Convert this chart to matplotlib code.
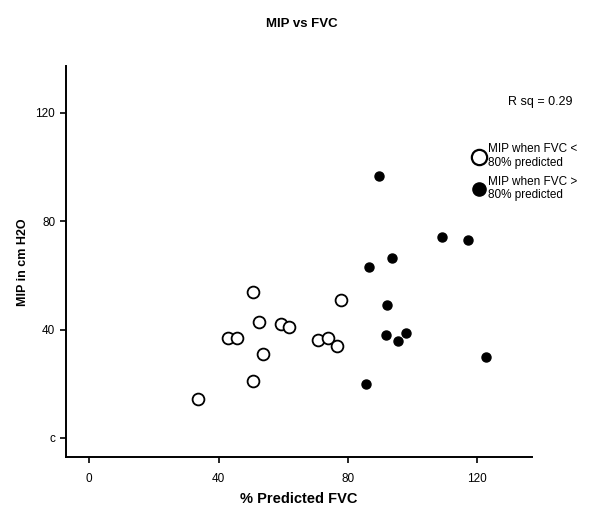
import matplotlib
matplotlib.use("Agg")
import matplotlib.pyplot as plt
from matplotlib.lines import Line2D

plt.rcParams['font.family'] = ['Liberation Sans', 'DejaVu Sans']

# FVC < 80% predicted (open circles)
low_fvc = [33.7, 50.7, 52.5, 42.8, 45.7, 53.7, 50.7, 59.2, 61.8, 77.8, 70.6, 73.7, 76.7]
low_mip = [14.2, 53.9, 42.8, 36.7, 36.7, 31.0, 21.0, 42.0, 40.9, 51.0, 36.0, 36.9, 33.9]
# FVC > 80% predicted (filled circles)
high_fvc = [89.6, 109.2, 117.2, 93.6, 86.4, 92.0, 91.6, 97.8, 95.6, 122.6, 85.7]
high_mip = [96.9, 74.1, 73.0, 66.6, 63.0, 49.0, 37.9, 38.9, 35.7, 29.8, 19.8]

xticks = [0, 40, 80, 120]
yticks = [0, 40, 80, 120]
ytick_labels = ['c', '40', '80', '120']
xtick_labels = ['0', '40', '80', '120']

fig = plt.figure(figsize=(6.14, 5.08), dpi=100)
ax = fig.add_axes([0.107, 0.0998, 0.759, 0.770])

ax.plot(low_fvc, low_mip, 'o', ms=8.5, mfc='white', mec='black', mew=1.3, ls='none')
ax.plot(high_fvc, high_mip, 'o', ms=6.5, mfc='black', mec='black', ls='none')

ax.set_xlim(-7.3, 136.8)
ax.set_ylim(-7.2, 137.3)
ax.set_xticks(xticks)
ax.set_xticklabels(xtick_labels)
ax.set_yticks(yticks)
ax.set_yticklabels(ytick_labels)
for s in ['top', 'right']:
    ax.spines[s].set_visible(False)
for s in ['left', 'bottom']:
    ax.spines[s].set_linewidth(1.4)
ax.tick_params(axis='both', labelsize=8.5, width=1.2, length=4, direction='out')
ax.tick_params(axis='x', pad=7)

ax.set_xlabel('% Predicted FVC', fontsize=10.5, fontweight='bold', labelpad=5)
ax.set_ylabel('MIP in cm H2O', fontsize=9, fontweight='bold', labelpad=5)
fig.suptitle('MIP vs FVC', fontsize=9.5, fontweight='bold', y=0.965, x=0.492)

fig.text(0.88, 0.80, 'R sq = 0.29', fontsize=9, ha='center', va='center')

handles = [
    Line2D([], [], marker='o', ls='none', ms=11, mfc='white', mec='black', mew=1.6),
    Line2D([], [], marker='o', ls='none', ms=9.5, mfc='black', mec='black'),
]
labels = ['MIP when FVC <\n80% predicted', 'MIP when FVC >\n80% predicted']
fig.legend(handles, labels, loc='upper left', bbox_to_anchor=(0.755, 0.734),
           frameon=False, fontsize=8.5, handletextpad=0.15, labelspacing=0.55,
           handlelength=1.2, borderpad=0.2)

fig.savefig('out.png', dpi=100, facecolor='white')
